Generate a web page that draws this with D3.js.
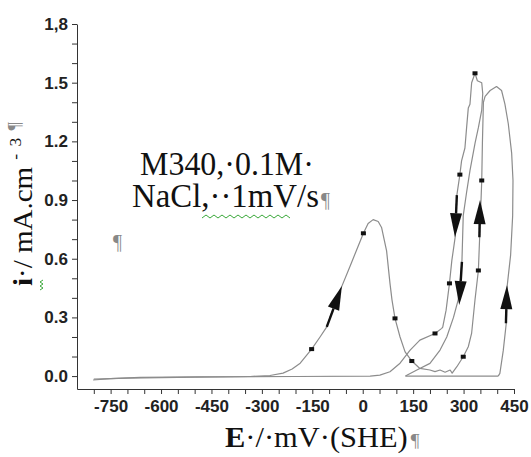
<!DOCTYPE html>
<html>
<head>
<meta charset="utf-8">
<script src="https://cdn.jsdelivr.net/npm/d3@7"></script>
<style>
  body { margin: 0; background: #fff; }
  svg { display: block; }
</style>
</head>
<body>
<svg id="chart" width="531" height="457"></svg>
<script>
// E (mV vs SHE), i (mA/cm2)
const forwardScan = [
  [-802, -0.02], [-751, -0.013], [-662, -0.007], [-484, -0.004], [-335, -0.002],
  [-276, 0.003], [-237, 0.015], [-210, 0.036], [-186, 0.066], [-152, 0.138],
  [-127, 0.2], [-107, 0.252], [-85, 0.36], [-62, 0.46], [-38, 0.56], [-17, 0.65],
  [2, 0.73], [16, 0.78], [31, 0.8], [46, 0.79], [56, 0.76], [71, 0.64], [81, 0.475],
  [87, 0.39], [96, 0.295], [111, 0.2], [126, 0.124], [146, 0.077], [170, 0.039],
  [200, 0.031], [215, 0.023], [230, 0.031], [245, 0.02], [260, 0.031], [266, 0.015],
  [280, 0.048], [289, 0.072], [299, 0.099], [314, 0.15], [324, 0.22], [334, 0.39],
  [344, 0.54], [349, 0.76], [354, 1.0], [356, 1.19], [359, 1.4], [364, 1.43],
  [379, 1.46], [398, 1.48], [413, 1.46], [423, 1.39], [433, 1.29], [443, 1.14],
  [447, 1.0], [446, 0.82], [440, 0.62], [430, 0.465], [427, 0.27], [418, 0.13],
  [408, 0.014], [403, 0]
];
const flatReturn = [[403, 0], [127, 0]];
const secondScan = [
  [127, 0], [161, 0.031], [200, 0.065], [230, 0.133], [250, 0.2], [270, 0.3],
  [284, 0.39], [290, 0.48], [295, 0.58], [299, 0.82], [309, 0.94], [319, 1.05],
  [334, 1.19], [344, 1.27], [354, 1.36], [357, 1.445], [354, 1.5], [341, 1.51],
  [334, 1.548]
];
const reverseScan = [
  [334, 1.548], [324, 1.5], [319, 1.39], [314, 1.37], [309, 1.27], [304, 1.166],
  [294, 1.1], [289, 1.03], [280, 0.925], [275, 0.71], [265, 0.59], [258, 0.474],
  [248, 0.337], [238, 0.25], [235, 0.244], [215, 0.218], [170, 0.184], [141, 0.133],
  [111, 0.066], [81, 0.022], [51, 0.005], [22, 0], [-200, -0.002], [-500, -0.005],
  [-700, -0.01], [-800, -0.016]
];
const markers = [
  [-152, 0.138], [2, 0.73], [96, 0.295], [146, 0.077], [299, 0.099], [344, 0.54],
  [354, 1.0], [334, 1.548], [289, 1.03], [258, 0.474], [215, 0.218]
];
// [E0, i0, E1, i1] : tail -> tip
const arrows = [
  [-107, 0.252, -62, 0.46],
  [280, 0.925, 274.5, 0.71],
  [295, 0.584, 287, 0.363],
  [347, 0.71, 349, 0.9],
  [426, 0.27, 429, 0.465]
];
const xTicks = d3.range(-800, 451, 50);
const xLabels = [-750, -600, -450, -300, -150, 0, 150, 300, 450];
const yTicks = d3.range(0, 19).map((d) => d / 10);
const yLabels = { 0: "0.0", 3: "0.3", 6: "0.6", 9: "0.9", 12: "1.2", 15: "1.5", 18: "1,8" };

const svg = d3.select("#chart");

const x = d3.scaleLinear().domain([-850, 450]).range([77, 514]);
const y = d3.scaleLinear().domain([-0.066, 1.8]).range([389, 24]);

const line = d3.line()
  .x((d) => x(d[0]))
  .y((d) => y(d[1]));

const curves = svg.append("g")
  .attr("fill", "none")
  .attr("stroke", "#8c8c8c")
  .attr("stroke-width", 1.2)
  .attr("stroke-linejoin", "round");

[forwardScan, flatReturn, secondScan, reverseScan].forEach((c) => {
  curves.append("path").attr("d", line(c));
});

svg.append("g")
  .selectAll("rect")
  .data(markers)
  .enter()
  .append("rect")
  .attr("x", (d) => x(d[0]) - 2.5)
  .attr("y", (d) => y(d[1]) - 2)
  .attr("width", 5)
  .attr("height", 4)
  .attr("fill", "#111");

// arrows along the scans
const ag = svg.append("g").attr("fill", "#111").attr("stroke", "#111");
arrows.forEach((a) => {
  const x0 = x(a[0]), y0 = y(a[1]), x1 = x(a[2]), y1 = y(a[3]);
  const len = Math.hypot(x1 - x0, y1 - y0);
  const ux = (x1 - x0) / len, uy = (y1 - y0) / len;
  const hl = 24, hw = 6;
  const bx = x1 - ux * hl, by = y1 - uy * hl;
  ag.append("line")
    .attr("x1", x0).attr("y1", y0)
    .attr("x2", bx).attr("y2", by)
    .attr("stroke-width", 2.4);
  ag.append("path")
    .attr("stroke", "none")
    .attr("d", `M${x1},${y1}L${bx - uy * hw},${by + ux * hw}L${bx + uy * hw},${by - ux * hw}Z`);
});

// axes
const xAxis = svg.append("g")
  .attr("transform", "translate(0,389)")
  .call(d3.axisBottom(x)
    .tickValues(xTicks)
    .tickSize(5)
    .tickSizeOuter(0)
    .tickFormat((d) => (xLabels.includes(d) ? d : "")));

const yAxis = svg.append("g")
  .attr("transform", "translate(77,0)")
  .call(d3.axisLeft(y)
    .tickValues(yTicks)
    .tickSize(5)
    .tickSizeOuter(0)
    .tickFormat((d) => yLabels[Math.round(d * 10)] || ""));

[xAxis, yAxis].forEach((g) => {
  g.select(".domain").attr("stroke", "#333");
  g.selectAll(".tick line").attr("stroke", "#333");
  g.selectAll(".tick text")
    .attr("fill", "#222")
    .style("font-family", "'Liberation Sans', Arial, sans-serif")
    .style("font-weight", "bold")
    .style("font-size", "17px");
});
xAxis.selectAll(".tick text").attr("dy", "0.8em").attr("y", 9);
yAxis.selectAll(".tick text").attr("x", -9);

const serif = "'Liberation Serif', 'Times New Roman', serif";

// squeeze a text block so it spans the width seen in the picture
function fit(t, px, py, width, rot) {
  const b = t.node().getBBox();
  const k = width / b.width;
  t.attr("x", -b.x).attr("y", 0)
    .attr("transform", `translate(${px},${py}) rotate(${rot || 0}) scale(${k},1) translate(${-b.x},0)`)
    .attr("x", 0);
}

// x title
const xt = svg.append("text")
  .style("font-family", serif)
  .style("font-size", "30px")
  .attr("fill", "#111");
xt.append("tspan").style("font-weight", "bold").text("E");
xt.append("tspan").text("·/·mV·(SHE)");
xt.append("tspan").attr("dx", 3).attr("fill", "#888").style("font-size", "19px").text("¶");
fit(xt, 225, 447, 195);

// y title
const yt = svg.append("text")
  .style("font-family", serif)
  .style("font-size", "28px")
  .attr("fill", "#111");
yt.append("tspan").style("font-weight", "bold").text("i");
yt.append("tspan").text("·/ mA.cm");
yt.append("tspan").attr("dx", 7).attr("dy", -11).style("font-size", "17px").text("-");
yt.append("tspan").attr("dx", 7).style("font-size", "17px").text("3");
yt.append("tspan").attr("dx", 7).attr("fill", "#888").style("font-size", "18px").text("¶");
fit(yt, 32, 286, 164, -90);

// spell-check squiggle next to the i
svg.append("path")
  .attr("d", "M40,290 l3,-2 l-3,-2 l3,-2 l-3,-2 l3,-2")
  .attr("fill", "none")
  .attr("stroke", "#3aa83a")
  .attr("stroke-width", 1);

// annotation
const note = svg.append("g")
  .style("font-family", serif)
  .style("font-size", "33px")
  .attr("fill", "#111");
const n1 = note.append("text").text("M340,·0.1M·");
fit(n1, 140, 175, 174);
const n2 = note.append("text");
n2.append("tspan").text("NaCl,··1mV/s");
n2.append("tspan").attr("dx", 2).attr("fill", "#888").style("font-size", "20px").text("¶");
fit(n2, 132, 207, 198);

svg.append("path")
  .attr("d", d3.range(202, 294, 4).map((v, k) => `${k ? "L" : "M"}${v},${k % 2 ? 215 : 218}`).join(""))
  .attr("fill", "none")
  .attr("stroke", "#3aa83a")
  .attr("stroke-width", 1);

svg.append("text")
  .attr("x", 113)
  .attr("y", 249)
  .attr("fill", "#888")
  .style("font-family", serif)
  .style("font-size", "20px")
  .text("¶");
</script>
</body>
</html>
